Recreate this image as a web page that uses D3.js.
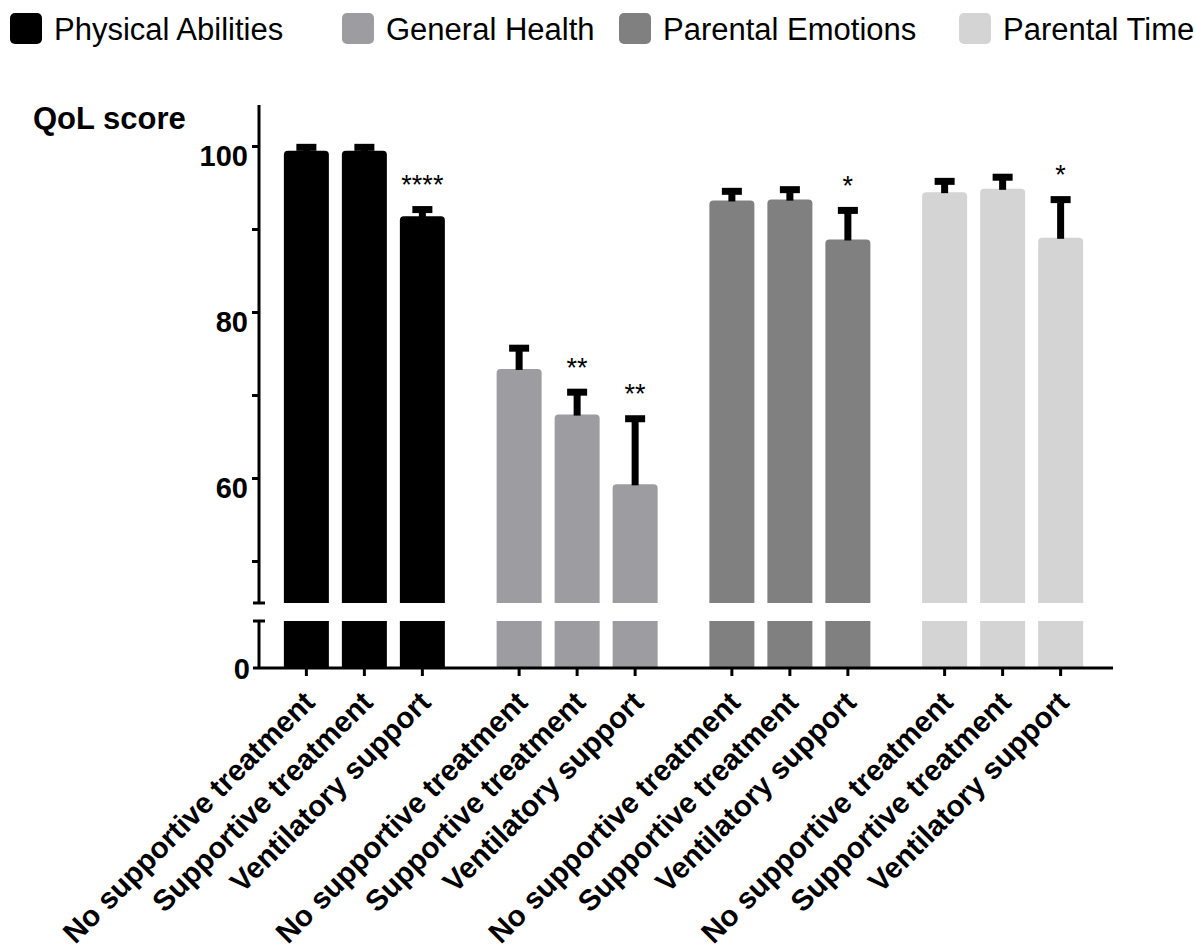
<!DOCTYPE html>
<html>
<head>
<meta charset="utf-8">
<script src="https://cdn.jsdelivr.net/npm/d3@7/dist/d3.min.js"></script>
<style>
  body { margin: 0; background: #fff; }
  text { font-family: "Liberation Sans", Arial, sans-serif; }
</style>
</head>
<body>
<svg id="chart" width="1195" height="949"></svg>
<script>
// ---- data ----
const groups = ["Physical Abilities", "General Health", "Parental Emotions", "Parental Time"];
const treatments = ["No supportive treatment", "Supportive treatment", "Ventilatory support"];
const colors = ["#000000", "#9d9da1", "#808080", "#d4d4d4"];
const means = [
  [99.5, 99.5, 91.6],
  [73.2, 67.7, 59.3],
  [93.5, 93.6, 88.8],
  [94.5, 94.9, 89.0]
];
const sems = [
  [0.4, 0.4, 0.8],
  [2.5, 2.7, 7.9],
  [1.1, 1.2, 3.5],
  [1.3, 1.4, 4.6]
];
const stars = [
  ["", "", "****"],
  ["", "**", "**"],
  ["", "", "*"],
  ["", "", "*"]
];
const upperTicks = [50, 60, 70, 80, 90, 100];
const upperLabels = [60, 80, 100];
const yTitle = "QoL score";

// ---- layout ----
const svg = d3.select("#chart");
const axisX = 259;
const x0 = d3.scaleBand().domain(groups).range([258, 1109]).padding(0);
const innerW = 161;
const x1 = d3.scaleBand().domain(treatments).range([0, innerW]).paddingInner(13 / 58).paddingOuter(0);
const yUp = d3.scaleLinear().domain([45, 105]).range([603, 105]);
const yLow = d3.scaleLinear().domain([0, 5]).range([668, 621]);

function barX(gi, t) { return x0(groups[gi]) + (x0.bandwidth() - innerW) / 2 + x1(t); }

const data = [];
groups.forEach((g, gi) => treatments.forEach((t, ti) => {
  data.push({ g, gi, t, ti, mean: means[gi][ti], sem: sems[gi][ti], star: stars[gi][ti] });
}));

// ---- bars ----
const r = 4;
const bw = x1.bandwidth();
svg.append("g").selectAll("path").data(data).join("path")
  .attr("fill", d => colors[d.gi])
  .attr("d", d => {
    const x = barX(d.gi, d.t), yT = yUp(d.mean), yB = yUp(45);
    return `M${x},${yB} L${x},${yT + r} Q${x},${yT} ${x + r},${yT} L${x + bw - r},${yT} Q${x + bw},${yT} ${x + bw},${yT + r} L${x + bw},${yB} Z`;
  });
svg.append("g").selectAll("rect").data(data).join("rect")
  .attr("fill", d => colors[d.gi])
  .attr("x", d => barX(d.gi, d.t))
  .attr("width", bw)
  .attr("y", yLow(5))
  .attr("height", yLow(0) - yLow(5));

// ---- error bars ----
const eb = svg.append("g");
eb.selectAll("rect.stem").data(data).join("rect")
  .attr("class", "stem")
  .attr("fill", "#000")
  .attr("x", d => barX(d.gi, d.t) + bw / 2 - 3.5)
  .attr("width", 7)
  .attr("y", d => yUp(d.mean + d.sem))
  .attr("height", d => yUp(d.mean) - yUp(d.mean + d.sem) + 1);
eb.selectAll("rect.cap").data(data).join("rect")
  .attr("class", "cap")
  .attr("fill", "#000")
  .attr("x", d => barX(d.gi, d.t) + bw / 2 - 10)
  .attr("width", 20)
  .attr("y", d => yUp(d.mean + d.sem) - 3.5)
  .attr("height", 7);

// ---- significance stars ----
svg.append("g").selectAll("text").data(data.filter(d => d.star)).join("text")
  .attr("x", d => barX(d.gi, d.t) + bw / 2)
  .attr("y", d => yUp(d.mean + d.sem) - 3.5 - 12)
  .attr("text-anchor", "middle")
  .attr("font-size", 27)
  .attr("fill", "#000")
  .text(d => d.star);

// ---- y axis ----
const ax = svg.append("g").attr("stroke", "#000").attr("stroke-width", 3).attr("fill", "none");
ax.append("line").attr("x1", axisX).attr("x2", axisX).attr("y1", yUp(105)).attr("y2", yUp(45));
ax.append("line").attr("x1", axisX).attr("x2", axisX).attr("y1", yLow(5)).attr("y2", yLow(0));
ax.append("line").attr("x1", axisX - 6).attr("x2", axisX + 6).attr("y1", yUp(45)).attr("y2", yUp(45));
ax.append("line").attr("x1", axisX - 6).attr("x2", axisX + 6).attr("y1", yLow(5)).attr("y2", yLow(5));
ax.selectAll("line.tick").data(upperTicks).join("line")
  .attr("class", "tick")
  .attr("x1", axisX - 7).attr("x2", axisX)
  .attr("y1", d => yUp(d)).attr("y2", d => yUp(d));
svg.append("g").selectAll("text").data(upperLabels).join("text")
  .attr("x", 248)
  .attr("y", d => yUp(d) + 19)
  .attr("text-anchor", "end")
  .attr("font-size", 29)
  .attr("font-weight", "bold")
  .text(d => d);
svg.append("text").attr("x", 250).attr("y", yLow(0) + 11)
  .attr("text-anchor", "end").attr("font-size", 29).attr("font-weight", "bold").text("0");

svg.append("text").attr("x", 33).attr("y", 129)
  .attr("font-size", 31).attr("font-weight", "bold").text(yTitle);

// ---- x axis ----
ax.append("line").attr("x1", axisX - 6).attr("x2", 1113).attr("y1", yLow(0)).attr("y2", yLow(0));
ax.selectAll("line.xtick").data(data).join("line")
  .attr("class", "xtick")
  .attr("x1", d => barX(d.gi, d.t) + bw / 2).attr("x2", d => barX(d.gi, d.t) + bw / 2)
  .attr("y1", yLow(0)).attr("y2", yLow(0) + 8);

svg.append("g").selectAll("text").data(data).join("text")
  .attr("transform", d => `translate(${barX(d.gi, d.t) + bw / 2 + 10},${yLow(0) + 36}) rotate(-45)`)
  .attr("text-anchor", "end")
  .attr("font-size", 29.5)
  .attr("font-weight", "bold")
  .text(d => d.t);

// ---- legend ----
const legendX = [10, 342, 619, 959];
const lg = svg.append("g").selectAll("g").data(groups).join("g")
  .attr("transform", (d, i) => `translate(${legendX[i]},13)`);
lg.append("rect").attr("width", 32).attr("height", 31).attr("rx", 5)
  .attr("fill", (d, i) => colors[i]);
lg.append("text").attr("x", 44).attr("y", 27)
  .attr("font-size", 31).attr("fill", "#000").text(d => d);
</script>
</body>
</html>
